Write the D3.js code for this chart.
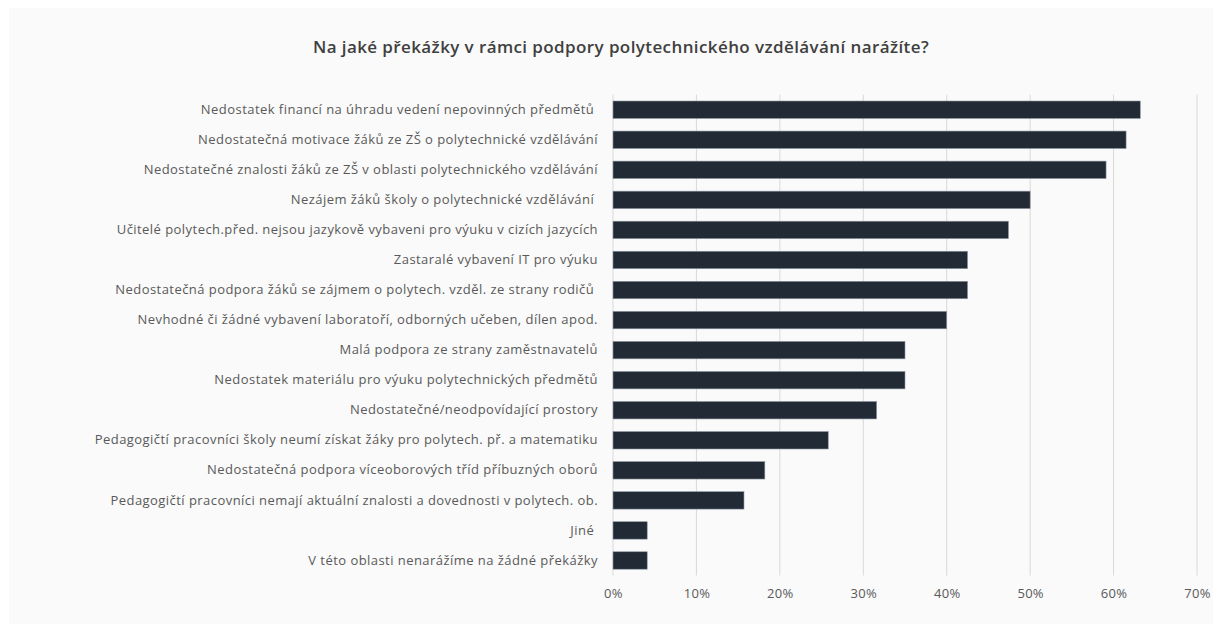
<!DOCTYPE html>
<html>
<head>
<meta charset="utf-8">
<script src="https://cdn.jsdelivr.net/npm/d3@7"></script>
<style>
html,body{margin:0;padding:0;background:#ffffff;}
svg{display:block;}
.ylab text{white-space:pre;}
</style>
</head>
<body>
<div id="chart"></div>
<script>
const title = "Na jaké překážky v rámci podpory polytechnického vzdělávání narážíte?";
const categories = [
  "Nedostatek financí na úhradu vedení nepovinných předmětů ",
  "Nedostatečná motivace žáků ze ZŠ o polytechnické vzdělávání",
  "Nedostatečné znalosti žáků ze ZŠ v oblasti polytechnického vzdělávání",
  "Nezájem žáků školy o polytechnické vzdělávání ",
  "Učitelé polytech.před. nejsou jazykově vybaveni pro výuku v cizích jazycích",
  "Zastaralé vybavení IT pro výuku",
  "Nedostatečná podpora žáků se zájmem o polytech. vzděl. ze strany rodičů ",
  "Nevhodné či žádné vybavení laboratoří, odborných učeben, dílen apod.",
  "Malá podpora ze strany zaměstnavatelů",
  "Nedostatek materiálu pro výuku polytechnických předmětů",
  "Nedostatečné/neodpovídající prostory",
  "Pedagogičtí pracovníci školy neumí získat žáky pro polytech. př. a matematiku",
  "Nedostatečná podpora víceoborových tříd příbuzných oborů",
  "Pedagogičtí pracovníci nemají aktuální znalosti a dovednosti v polytech. ob.",
  "Jiné ",
  "V této oblasti nenarážíme na žádné překážky"
];
const values = [0.632, 0.615, 0.591, 0.500, 0.474, 0.425, 0.425, 0.400, 0.350, 0.350, 0.316, 0.258, 0.182, 0.157, 0.041, 0.041];
const xTicks = [0, 0.1, 0.2, 0.3, 0.4, 0.5, 0.6, 0.7];

const W = 1221, H = 632;
const svg = d3.select("#chart").append("svg").attr("width", W).attr("height", H);

svg.append("rect").attr("x", 9).attr("y", 8).attr("width", 1204).attr("height", 616).attr("fill", "#fafafa");

svg.append("text")
  .attr("x", 621).attr("y", 53)
  .attr("text-anchor", "middle")
  .attr("font-family", "'Open Sans', sans-serif")
  .attr("font-size", 17)
  .attr("font-weight", 600)
  .attr("letter-spacing", 0.4)
  .attr("fill", "#404040")
  .text(title);

const x = d3.scaleLinear().domain([0, 0.7]).range([613, 1197]);
const y = d3.scaleBand().domain(categories).range([94.7, 575.5]).paddingInner(0.42).paddingOuter(0.21);

// gridlines
const grid = svg.append("g");
grid.selectAll("line").data(xTicks).join("line")
  .attr("x1", d => x(d)).attr("x2", d => x(d))
  .attr("y1", 94.7).attr("y2", 575.5)
  .attr("stroke", "#d9d9d9").attr("stroke-width", 1);

// x axis labels
const xAxis = d3.axisBottom(x).tickValues(xTicks).tickFormat(d3.format(".0%")).tickSize(0).tickPadding(0);
const gx = svg.append("g").attr("transform", "translate(0,589)").call(xAxis);
gx.select(".domain").remove();
gx.selectAll("text")
  .attr("font-family", "'Open Sans', sans-serif")
  .attr("font-size", 13)
  .attr("letter-spacing", 0.3)
  .attr("fill", "#595959");

// y axis labels
const yAxis = d3.axisLeft(y).tickSize(0).tickPadding(0);
const gy = svg.append("g").attr("class", "ylab").attr("transform", "translate(598,0)").call(yAxis);
gy.select(".domain").remove();
gy.selectAll("text")
  .attr("font-family", "'Open Sans', sans-serif")
  .attr("font-size", 13)
  .attr("letter-spacing", 0.45)
  .attr("fill", "#595959");

// bars
svg.append("g").selectAll("rect").data(values).join("rect")
  .attr("x", x(0))
  .attr("y", (d, i) => y(categories[i]))
  .attr("width", d => x(d) - x(0))
  .attr("height", y.bandwidth())
  .attr("fill", "#222a35")
  .attr("stroke", "#8c96a3")
  .attr("stroke-width", 0.6);
</script>
</body>
</html>
